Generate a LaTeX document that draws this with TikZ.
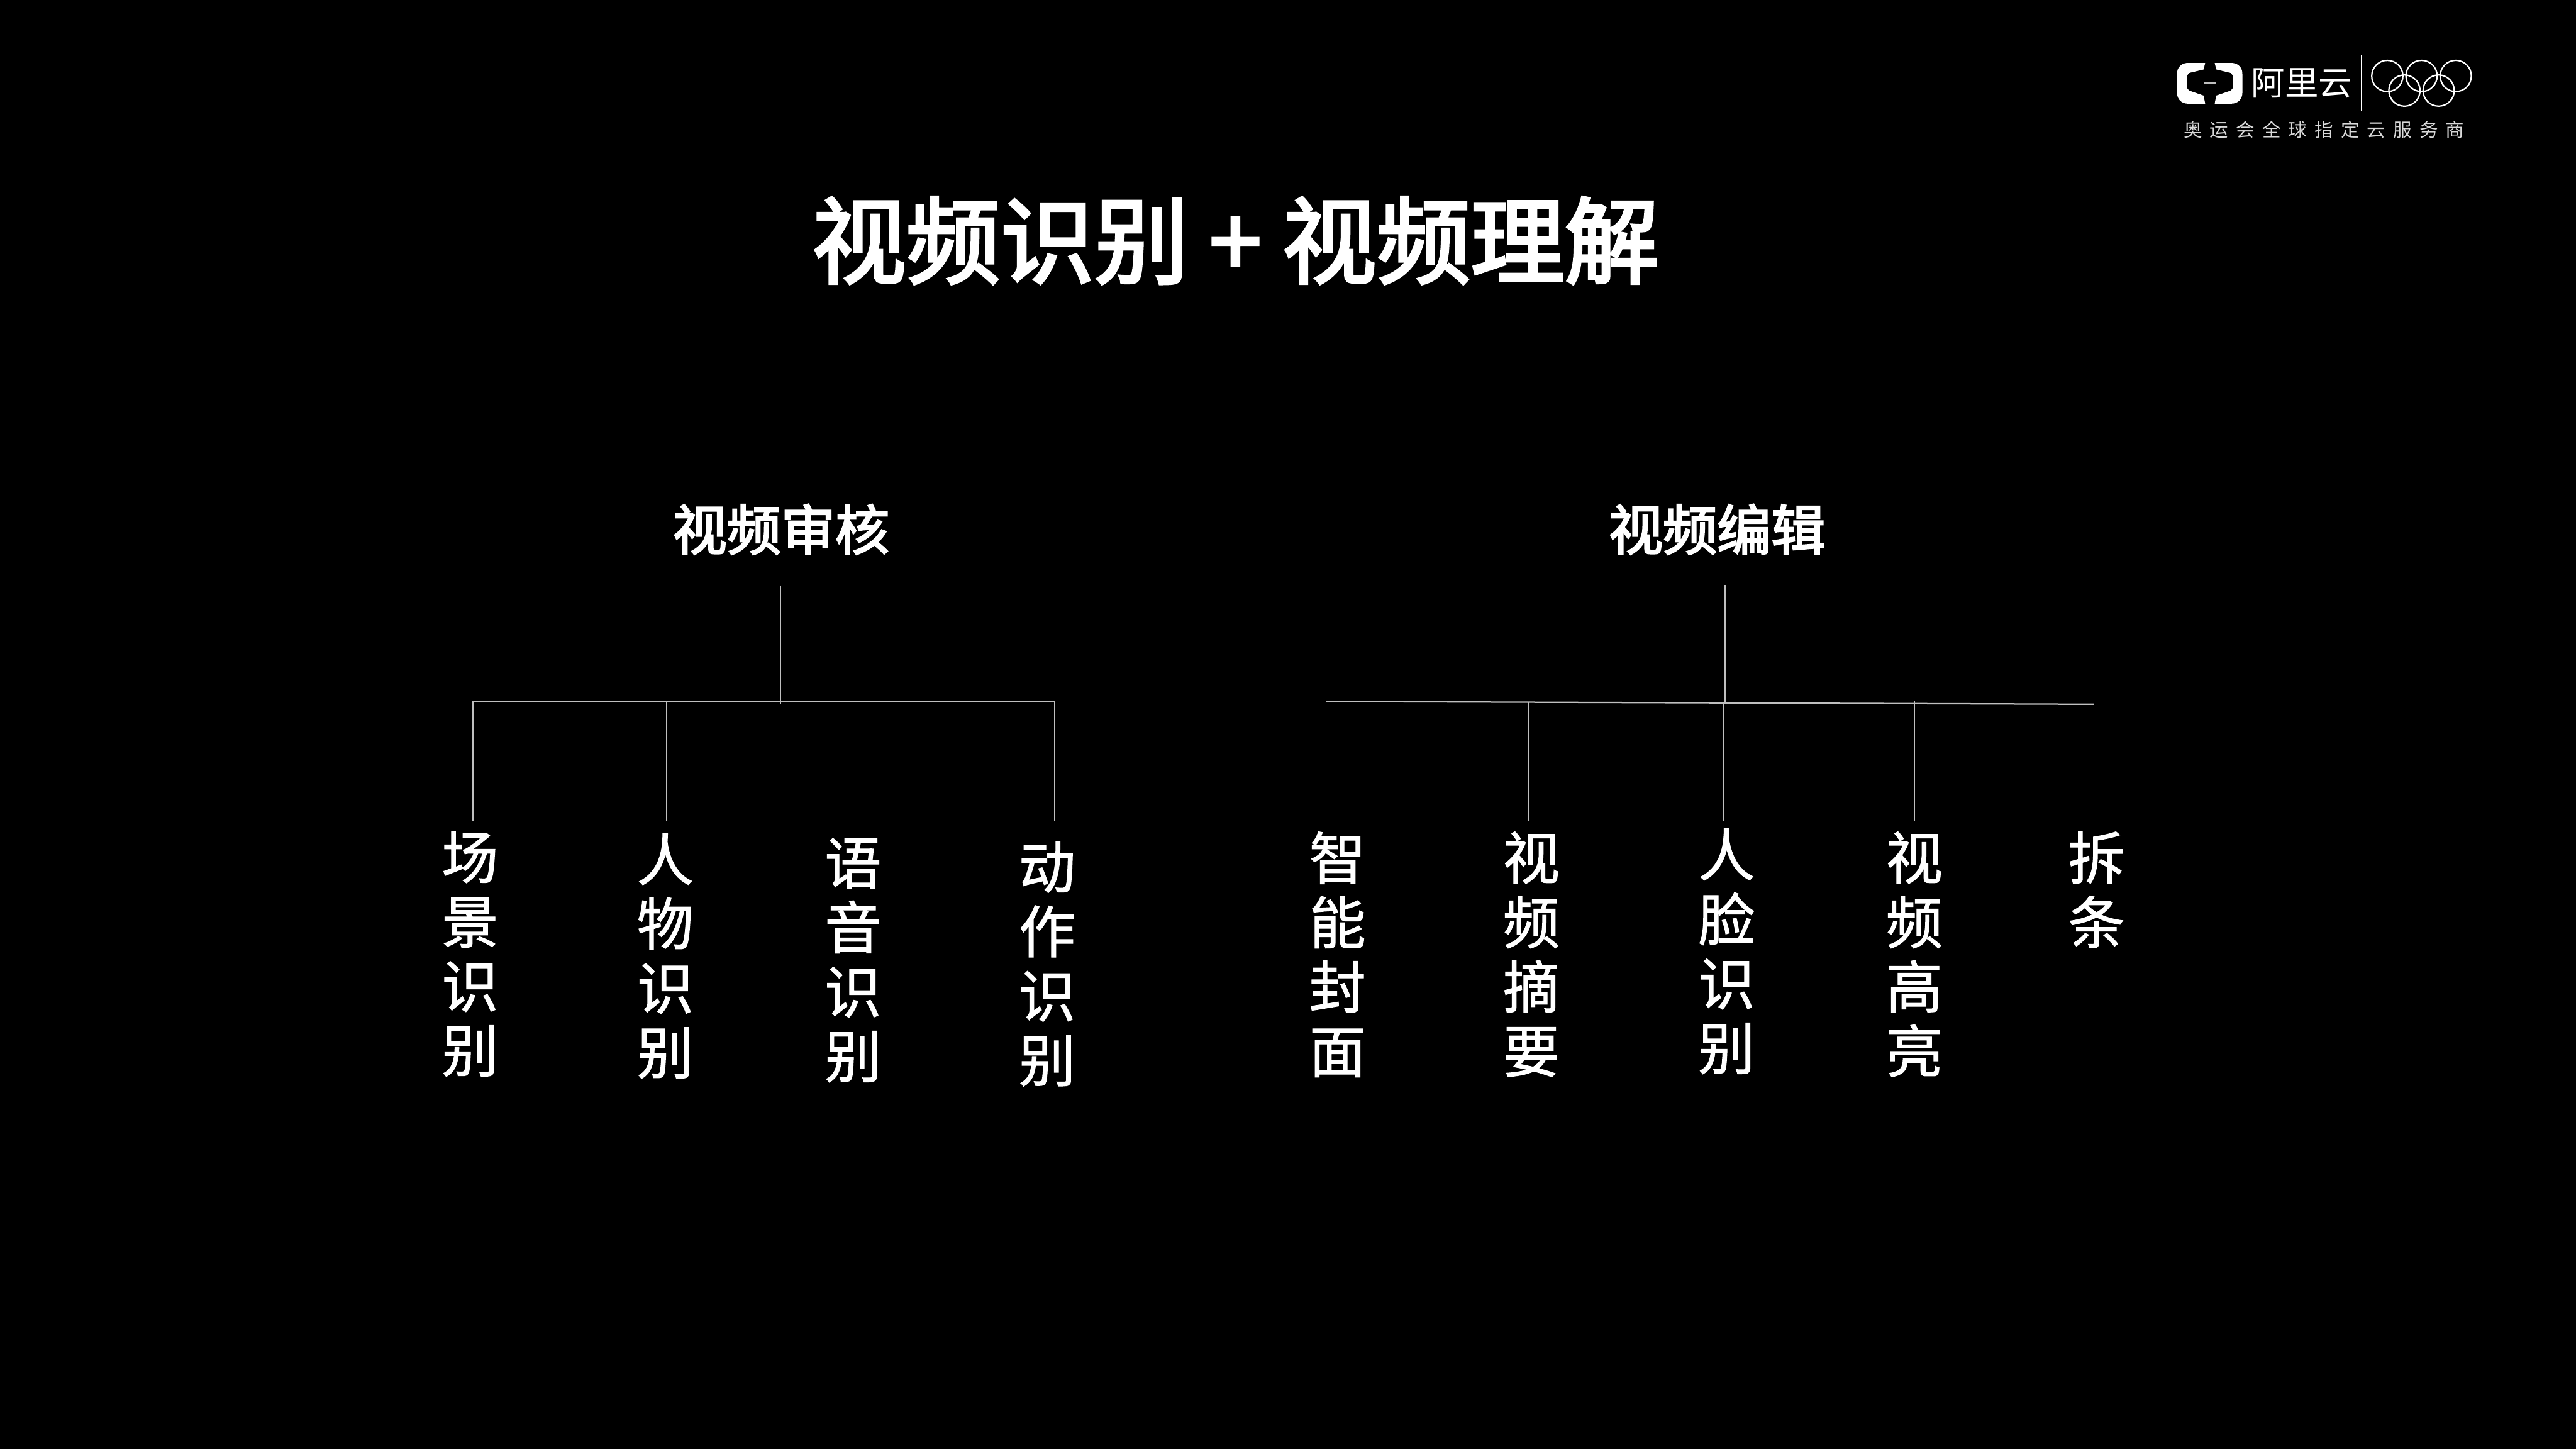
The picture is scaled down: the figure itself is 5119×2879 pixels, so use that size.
\documentclass[tikz,border=0pt]{standalone}
\usepackage{fontspec}
\setmainfont{Noto Sans CJK SC}
\newfontfamily\cjkmedium[FakeBold=1.2]{Noto Sans CJK SC}
\newfontfamily\cjkheavy[FakeBold=3]{Noto Sans CJK SC}
\tikzset{
    headline/.style={text=white, font=\fontsize{53.2}{60}\cjkheavy, inner sep=0pt},
    heading/.style={text=white, font=\fontsize{30.6}{36}\cjkheavy, inner sep=0pt},
    column/.style={text=white, font=\fontsize{32}{36.4}\cjkmedium, align=center, inner sep=0pt},
    branch/.style={draw=white!75!black, line width=0.6pt},
    bus/.style={draw=white!75!black, line width=0.8pt},
    ring/.style={draw=white, line width=0.8pt},
}
\begin{document}
\begin{tikzpicture}[x=0.01cm, y=-0.01cm]
    \useasboundingbox (0,0) rectangle (5119,2879);
    \fill[black] (0,0) rectangle (5119,2879);

    % logo
    \fill[white] (4382,125) -- (4348,125) .. controls (4335,125) and (4326,134) .. (4326,147)
        -- (4326,184) .. controls (4326,197) and (4335,206) .. (4348,206) -- (4382,206)
        -- (4379,190) -- (4350,180) -- (4346,175) -- (4346,150) -- (4350,145) -- (4379,138) -- cycle;
    \fill[white] (4401,125) -- (4434,125) .. controls (4447,125) and (4456,134) .. (4456,147)
        -- (4456,184) .. controls (4456,197) and (4447,206) .. (4434,206) -- (4401,206)
        -- (4404,190) -- (4433,180) -- (4437,175) -- (4437,150) -- (4433,145) -- (4404,138) -- cycle;
    \fill[white!75!black] (4379,163.5) rectangle (4404,166.5);
    \node[text=white, inner sep=0pt, font=\fontsize{19}{20}\selectfont] (brand) at (4574,165) {阿里云};
    \draw[white, line width=0.4pt] (4692,109) -- (4692,221);
    \draw[ring] (4744,151) circle (31);
    \draw[ring] (4812,151) circle (31);
    \draw[ring] (4880,151) circle (31);
    \draw[ring] (4778,180) circle (31);
    \draw[ring] (4846,180) circle (31);
    \node[text=white!85!black, inner sep=0pt, font=\fontsize{10.5}{12}\selectfont\addfontfeature{LetterSpace=41}] (sponsor) at (4618,258)
        {奥运会全球指定云服务商};

    \node[headline] (title) at (2455,478) {视频识别\hspace{0.22em}+\hspace{0.22em}视频理解};

    \node[heading] (audit) at (1552,1052) {视频审核};
    \node[heading] (edit) at (3412,1052) {视频编辑};

    \node[column, anchor=north] (scene) at (934,1652) {场\\景\\识\\别};
    \node[column, anchor=north] (person) at (1322,1655) {人\\物\\识\\别};
    \node[column, anchor=north] (speech) at (1695,1665) {语\\音\\识\\别};
    \node[column, anchor=north] (action) at (2081,1672) {动\\作\\识\\别};
    \node[column, anchor=north] (cover) at (2658,1652) {智\\能\\封\\面};
    \node[column, anchor=north] (summary) at (3043,1652) {视\\频\\摘\\要};
    \node[column, anchor=north] (face) at (3431,1646) {人\\脸\\识\\别};
    \node[column, anchor=north] (highlight) at (3804,1652) {视\\频\\高\\亮};
    \node[column, anchor=north] (strip) at (4166,1652) {拆\\条};

    \coordinate (audittop) at (1551,1163);
    \coordinate (auditfoot) at (1551,1399);
    \coordinate (sceneup) at (940,1393);
    \coordinate (scenedown) at (940,1631);
    \coordinate (personup) at (1324,1393);
    \coordinate (persondown) at (1324,1631);
    \coordinate (speechup) at (1709,1393);
    \coordinate (speechdown) at (1709,1631);
    \coordinate (actionup) at (2095,1393);
    \coordinate (actiondown) at (2095,1631);
    \draw[branch] (audittop) -- (auditfoot);
    \draw[bus] (sceneup) -- (actionup);
    \draw[branch] (sceneup) -- (scenedown);
    \draw[branch] (personup) -- (persondown);
    \draw[branch] (speechup) -- (speechdown);
    \draw[branch] (actionup) -- (actiondown);

    \coordinate (edittop) at (3428,1162);
    \coordinate (editfoot) at (3428,1396);
    \coordinate (coverup) at (2635,1394);
    \coordinate (coverdown) at (2635,1631);
    \coordinate (summaryup) at (3038,1396);
    \coordinate (summarydown) at (3038,1631);
    \coordinate (faceup) at (3424,1396);
    \coordinate (facedown) at (3424,1631);
    \coordinate (highlightup) at (3805,1394);
    \coordinate (highlightdown) at (3805,1631);
    \coordinate (stripup) at (4161,1395);
    \coordinate (stripmid) at (4161,1399.5);
    \coordinate (stripdown) at (4161,1631);
    \draw[branch] (edittop) -- (editfoot);
    \draw[bus] (coverup) -- (stripmid);
    \draw[branch] (coverup) -- (coverdown);
    \draw[branch] (summaryup) -- (summarydown);
    \draw[branch] (faceup) -- (facedown);
    \draw[branch] (highlightup) -- (highlightdown);
    \draw[branch] (stripup) -- (stripdown);
\end{tikzpicture}
\end{document}
